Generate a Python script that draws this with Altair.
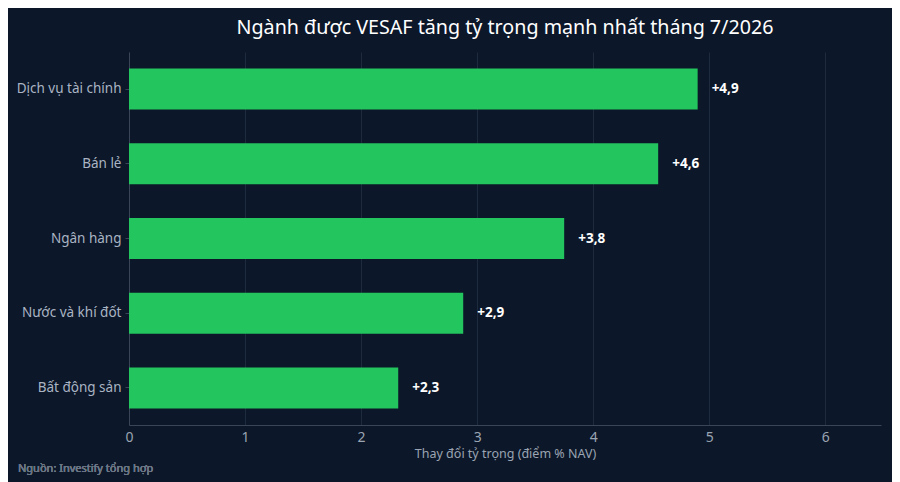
import altair as alt
import pandas as pd

categories = ["Dịch vụ tài chính", "Bán lẻ", "Ngân hàng", "Nước và khí đốt", "Bất động sản"]
values = [4.9, 4.56, 3.75, 2.88, 2.32]
labels = ["+4,9", "+4,6", "+3,8", "+2,9", "+2,3"]

df = pd.DataFrame({"cat": categories, "val": values, "lab": labels})

FONT = "Noto Sans"
BG = "#0c1729"

x_enc = alt.X("val:Q", scale=alt.Scale(domain=[0, 6.48], nice=False),
              axis=alt.Axis(title="Thay đổi tỷ trọng (điểm % NAV)", values=[0, 1, 2, 3, 4, 5, 6],
                            format="d", grid=True, gridColor="#1e2a3d", gridWidth=1,
                            domainColor="#3a4658", ticks=False, labelColor="#9aa4b2",
                            labelFontSize=14, labelPadding=5, labelFlush=False,
                            titleColor="#9aa4b2",
                            titleFontSize=12.5, titleFontWeight="normal", titlePadding=3,
                            labelFont=FONT, titleFont=FONT))
y_enc = alt.Y("cat:N", sort=categories,
              scale=alt.Scale(paddingInner=0.45, paddingOuter=0.22),
              axis=alt.Axis(title=None, domainColor="#3a4658", tickColor="#3a4658", tickSize=4,
                            labelColor="#aab4c3", labelFontSize=13.5, labelPadding=4,
                            labelFont=FONT, grid=False))

bars = alt.Chart(df).mark_bar(color="#22c55e").encode(x=x_enc, y=y_enc)
text = alt.Chart(df).mark_text(align="left", dx=14, color="white", fontWeight="bold",
                               fontSize=13.5, font=FONT).encode(
    x="val:Q", y=alt.Y("cat:N", sort=categories), text="lab:N")

footer = alt.Chart(df).mark_text(align="left", baseline="middle", color="#6b7685",
                                 fontSize=11, font=FONT, fontWeight="normal").encode(
    x=alt.value(-111), y=alt.value(417), text=alt.value("Nguồn: Investify tổng hợp"))

chart = alt.layer(bars, text, footer).properties(
    width=752, height=373,
    background=BG,
    padding={"left": 121, "top": 44, "right": 11, "bottom": 57},
    autosize=alt.AutoSizeParams(type="none"),
    title=alt.TitleParams("Ngành được VESAF tăng tỷ trọng mạnh nhất tháng 7/2026",
                          color="white", fontSize=19.7, font=FONT, fontWeight="normal",
                          anchor="middle", offset=14),
).configure_view(stroke=None)

chart.save("out.html", embed_options={"renderer": "svg", "actions": False})
